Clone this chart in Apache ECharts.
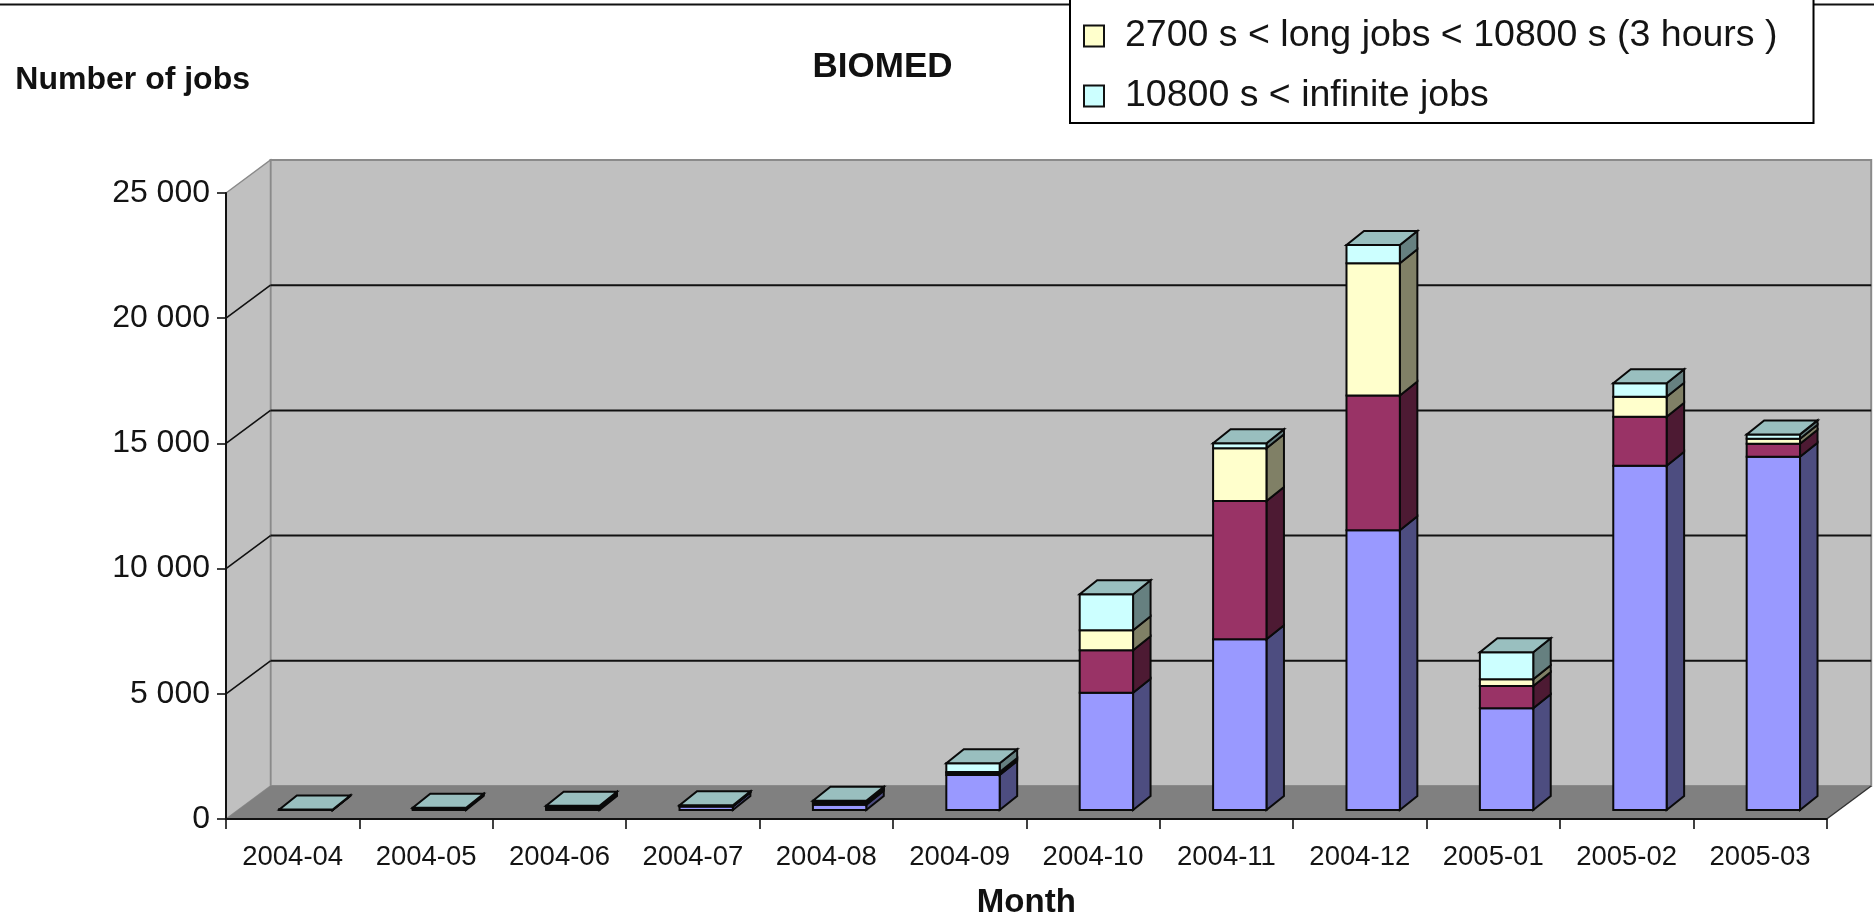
<!DOCTYPE html>
<html><head><meta charset="utf-8">
<script src="https://cdn.jsdelivr.net/npm/echarts@6/dist/echarts.min.js"></script>
<style>html,body{margin:0;padding:0;background:#fff}#c{width:1874px;height:923px}</style>
</head><body><div id="c"></div>
<script>
const months = ['2004-04','2004-05','2004-06','2004-07','2004-08','2004-09','2004-10','2004-11','2004-12','2005-01','2005-02','2005-03'];
const yTicks = [0,5000,10000,15000,20000,25000];
const shortJobs  = [5,30,40,140,210,1400,4685,6816,11170,4060,13750,14110];
const mediumJobs = [5,30,60,10,80,80,1693,5524,5380,892,1958,518];
const longJobs   = [5,20,50,10,30,40,799,2104,5283,268,797,200];
const infiniteJobs = [5,10,20,30,50,345,1437,199,731,1078,535,172];

const seriesDefs = [
  {name:'short jobs', values:shortJobs, front:'#9999FF', side:'#4D4D80'},
  {name:'medium jobs', values:mediumJobs, front:'#993366', side:'#4D1A33'},
  {name:'2700 s < long jobs < 10800 s (3 hours )', values:longJobs, front:'#FFFFCC', side:'#808066'},
  {name:'10800 s < infinite jobs', values:infiniteJobs, front:'#CCFFFF', side:'#668080'}
];
const TOP_COLOR = '#99BFBF';
const WALL_DX = 44.5, WALL_DY = 33;
const BAR_RATIO = 0.4, BAR_SHIFT_RATIO = 0.1, BAR_LIFT = 9, BAR_DX = 17.5, BAR_DY = 14;
const EDGE = '#0a0a0a';

function poly(pts, fill, stroke, lw){
  return {type:'polygon', shape:{points:pts}, style:{fill:fill, stroke:stroke||null, lineWidth:lw||0}};
}
function line(a,b,stroke,lw){
  return {type:'line', shape:{x1:a[0],y1:a[1],x2:b[0],y2:b[1]}, style:{stroke:stroke, lineWidth:lw}};
}
function renderWalls(params, api){
  const cs = params.coordSys;
  const L = cs.x, R = cs.x + cs.width;
  const y0 = api.coord([0, 0])[1];
  const yTop = api.coord([0, yTicks[yTicks.length-1]])[1];
  const kids = [
    poly([[L+WALL_DX,yTop-WALL_DY],[R+WALL_DX,yTop-WALL_DY],[R+WALL_DX,y0-WALL_DY],[L+WALL_DX,y0-WALL_DY]],'#C0C0C0','#8a8a8a',2),
    poly([[L,yTop],[L+WALL_DX,yTop-WALL_DY],[L+WALL_DX,y0-WALL_DY],[L,y0]],'#C0C0C0','#8a8a8a',1.5),
    poly([[L,y0],[R,y0],[R+WALL_DX,y0-WALL_DY],[L+WALL_DX,y0-WALL_DY]],'#808080')
  ];
  yTicks.slice(1,-1).forEach(function(v){
    const y = api.coord([0,v])[1];
    kids.push(line([L,y],[L+WALL_DX,y-WALL_DY],'#111',1.6));
    kids.push(line([L+WALL_DX,y-WALL_DY],[R+WALL_DX,y-WALL_DY],'#111',2));
  });
  kids.push(line([R,y0],[R+WALL_DX,y0-WALL_DY],'#333',1.5));
  return {type:'group', children:kids};
}
function makeRenderBar(def, isLast){
  return function(params, api){
    const i = api.value(0);
    const band = api.size([1,0])[0];
    const c = api.coord([i, api.value(1)]);
    const t = api.coord([i, api.value(2)]);
    const w = band*BAR_RATIO;
    const x0 = c[0] - w/2 + band*BAR_SHIFT_RATIO, x1 = x0 + w;
    const yb = c[1] - BAR_LIFT, yt = t[1] - BAR_LIFT;
    const kids = [
      poly([[x1,yb],[x1+BAR_DX,yb-BAR_DY],[x1+BAR_DX,yt-BAR_DY],[x1,yt]],def.side,EDGE,2),
      poly([[x0,yb],[x1,yb],[x1,yt],[x0,yt]],def.front,EDGE,2)
    ];
    if(isLast) kids.push(poly([[x0,yt],[x1,yt],[x1+BAR_DX,yt-BAR_DY],[x0+BAR_DX,yt-BAR_DY]],TOP_COLOR,EDGE,2));
    return {type:'group', children:kids};
  };
}
const running = months.map(function(){return 0;});
const barSeries = seriesDefs.map(function(def, si){
  const data = def.values.map(function(v,i){
    const base = running[i]; running[i] += v;
    return [i, base, running[i]];
  });
  return {
    type:'custom', name:def.name, data:data, encode:{x:0,y:[1,2]}, z:3+si, silent:true,
    itemStyle:{color:def.front},
    renderItem:makeRenderBar(def, si===seriesDefs.length-1)
  };
});
const TXT = '#141414', FF = '"Liberation Sans", Arial, sans-serif';
const chart = echarts.init(document.getElementById('c'), null, {renderer:'canvas'});
chart.setOption({
  animation:false,
  backgroundColor:'#fff',
  title:{text:'BIOMED', left:877.5, top:45, textAlign:'center',
    textStyle:{fontFamily:FF, fontSize:35, fontWeight:'bold', color:'#111'}},
  legend:{
    data:[seriesDefs[2].name, seriesDefs[3].name], orient:'vertical', left:1070, top:-10,
    padding:[27,36,8,13], itemWidth:20, itemHeight:21, itemGap:22, selectedMode:false,
    backgroundColor:'#fff', borderColor:'#000', borderWidth:2, icon:'rect',
    itemStyle:{borderColor:'#111', borderWidth:2},
    textStyle:{fontFamily:FF, fontSize:37.5, color:TXT, padding:[0,0,0,16]}
  },
  graphic:[{type:'line', shape:{x1:0,y1:4.5,x2:1874,y2:4.5}, style:{stroke:'#111',lineWidth:2}}],
  grid:{left:226, right:47.3, top:193, bottom:104, outerBoundsMode:'none'},
  xAxis:{
    type:'category', data:months, z:10,
    name:'Month', nameLocation:'middle', nameGap:67,
    nameTextStyle:{fontFamily:FF, fontSize:33, fontWeight:'bold', color:'#111'},
    axisLine:{show:true, lineStyle:{color:'#111', width:2}},
    axisTick:{show:true, alignWithLabel:false, length:10, lineStyle:{color:'#111', width:1.6}},
    axisLabel:{interval:0, margin:24, fontFamily:FF, fontSize:27.5, color:TXT},
    splitLine:{show:false}
  },
  yAxis:{
    type:'value', min:0, max:25000, interval:5000, z:10,
    name:'Number of jobs', nameLocation:'end', nameGap:97,
    nameTextStyle:{fontFamily:FF, fontSize:32, fontWeight:'bold', color:'#111', align:'right', padding:[0,-24,0,0]},
    axisLine:{show:true, lineStyle:{color:'#111', width:2}},
    axisTick:{show:true, length:9, lineStyle:{color:'#111', width:1.6}},
    axisLabel:{margin:16, fontFamily:FF, fontSize:32, color:TXT,
      formatter:function(v){return String(v).replace(/\B(?=(\d{3})+$)/g,' ');}},
    splitLine:{show:false}
  },
  series:[{type:'custom', name:'walls', data:[[0,0]], encode:{x:0,y:1}, z:1, silent:true, renderItem:renderWalls}].concat(barSeries)
});
</script></body></html>
